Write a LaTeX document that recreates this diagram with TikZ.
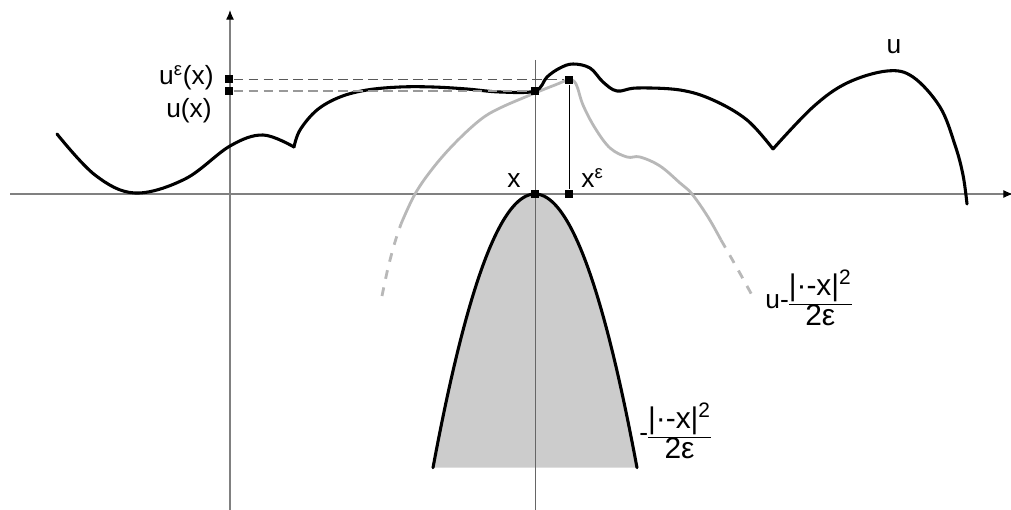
\documentclass[tikz,border=0pt]{standalone}
\usepackage{fontspec}
\setmainfont{Liberation Sans}
\usetikzlibrary{arrows.meta}
\newcommand{\fracbox}[2]{\ensuremath{\vcenter{\hbox{\fontsize{17}{20}\selectfont\setlength{\tabcolsep}{0pt}\setlength{\arrayrulewidth}{0.8pt}\renewcommand{\arraystretch}{0.78}\begin{tabular}{c}#1\\\hline #2\end{tabular}}}}}
\begin{document}
\begin{tikzpicture}[x=0.02cm,y=-0.02cm,
  axisline/.style={draw=black!50, line width=0.6pt},
  thinline/.style={draw=black!60, line width=0.5pt},
  ucurve/.style={line width=1.75pt, line join=round, line cap=round},
  gcurve/.style={draw=black!28, line width=1.6pt, line join=round},
  gdash/.style={gcurve, dash pattern=on 5pt off 5pt},
  dot/.style={rectangle, fill=black, minimum size=5pt, inner sep=0pt},
  lbl/.style={font=\fontsize{15}{18}\selectfont, inner sep=0pt},
  tip/.style={-{Latex[length=5.5pt,width=4.5pt,color=black]}}]
\useasboundingbox (0,0) rectangle (1011,510);
% parabola fill
\fill[black!20] plot[domain=-102:102, samples=80] ({535+\x},{194+0.0263*\x*\x}) -- cycle;
% axes and guide lines
\coordinate (hx0) at (10,194);
\coordinate (hx1) at (1013,194);
\coordinate (vy0) at (230,510);
\coordinate (vy1) at (230,10);
\coordinate (xl0) at (535,60);
\coordinate (xl1) at (535,510);
\draw[axisline, tip] (hx0) -- (hx1);
\draw[axisline, tip] (vy0) -- (vy1);
\draw[thinline] (xl0) -- (xl1);
% parabola outline
\draw[ucurve] plot[domain=-102:102, samples=80] ({535+\x},{194+0.0263*\x*\x});
% gray curve u - |.-x|^2/2eps
\draw[gdash] plot[smooth, tension=0.6] coordinates {(382,296) (388,268) (395,242) (401,224)};
\draw[gcurve] plot[smooth, tension=0.6] coordinates {(401,224) (415,194) (433,168) (455,143) (480,120) (500,108) (535,93) (555,85) (569,80) (576,84) (583,105) (595,128) (610,148) (627,157) (640,157) (660,166) (680,183) (692,194) (708,217) (721,240)};
\draw[gdash] plot[smooth, tension=0.6] coordinates {(721,240) (737,268) (753,297)};
% black curve u
\draw[ucurve] plot[smooth, tension=0.6] coordinates {(57,134) (95,175) (135,193) (185,179) (230,146) (263,135) (294,147)};
\draw[ucurve] plot[smooth, tension=0.6] coordinates {(294,147) (300,130) (317,110) (340,97) (367,90) (400,87) (433,87) (467,89) (500,92) (535,91) (547,77) (560,68) (573,64) (590,68) (603,82) (617,91) (637,88) (680,90) (713,100) (747,120) (773,149)};
\draw[ucurve] plot[smooth, tension=0.6] coordinates {(773,149) (813,107) (847,83) (887,71) (913,77) (940,107) (955,145) (963,175) (967,204)};
% squares
\node[dot] (ue) at (229,79) {};
\node[dot] (ux) at (229,91) {};
\node[dot] (px) at (535,91) {};
\node[dot] (pe) at (569,80) {};
\node[dot] (x) at (535,194) {};
\node[dot] (xe) at (569,194) {};
\draw[draw=black!65, line width=0.5pt, dash pattern=on 5.5pt off 3pt] (ue) -- (ue -| pe.west);
\draw[draw=black!40, line width=0.8pt, dash pattern=on 5.5pt off 3pt] (ux) -- (px);
\draw[draw=black, line width=0.5pt] (pe) -- (xe);
% labels
\node[lbl, anchor=east] (lue) at (214,78) {u\textsuperscript{ε}(x)};
\node[lbl, anchor=east] (lux) at (212,111) {u(x)};
\node[lbl] (lx) at (514,181) {x};
\node[lbl, anchor=west] (lxe) at (581,178) {x\textsuperscript{ε}};
\node[lbl] (lu) at (894,47) {u};
\node[lbl, anchor=west] (lg) at (765,302) {u-\fracbox{|·-x|\textsuperscript{2}}{2ε}};
\node[lbl, anchor=west] (lp) at (639,435) {-\fracbox{|·-x|\textsuperscript{2}}{2ε}};
\end{tikzpicture}
\end{document}
